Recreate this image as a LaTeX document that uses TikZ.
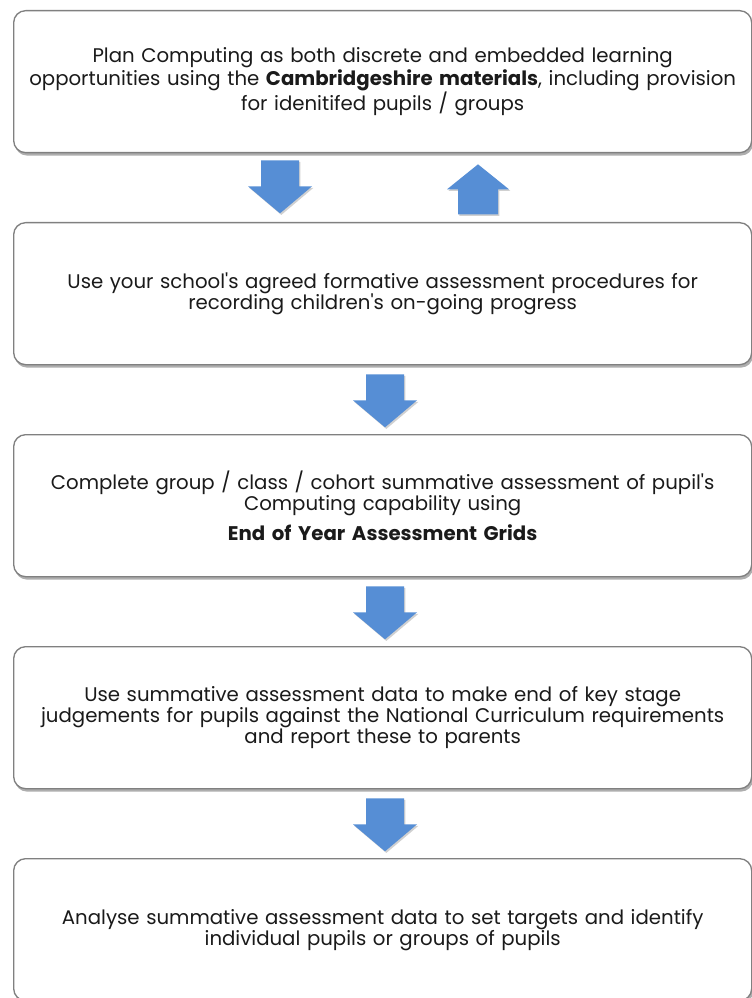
\documentclass[tikz,border=0pt]{standalone}
\usepackage{fontspec}
\setmainfont{Poppins}[Ligatures=TeXOff]
\usetikzlibrary{calc,shadows}
\definecolor{arrowblue}{RGB}{86,142,213}
\definecolor{boxline}{RGB}{128,128,128}
\definecolor{txt}{RGB}{26,26,26}
\tikzset{
  stagebox/.style={draw=boxline, line width=1pt, fill=white, rounded corners=9pt,
    anchor=north west, minimum width=553.5pt, minimum height=106.5pt,
    text width=548pt, align=center, text=txt, inner sep=0pt,
    font=\fontsize{14.8}{15.8}\selectfont,
    drop shadow={shadow xshift=1pt, shadow yshift=-2.2pt, opacity=0.45, fill=black!70}},
  arrowfill/.style={fill=arrowblue,
    drop shadow={shadow xshift=1pt, shadow yshift=-1.2pt, opacity=0.3, fill=black!60}},
  downarrow/.pic={\path[arrowfill] (-19,0) -- (19,0) -- (19,26) -- (32,26) -- (0,53) -- (-32,26) -- (-19,26) -- cycle;},
  uparrow/.pic={\path[arrowfill] (0,0) -- (31,25) -- (20,25) -- (20,50) -- (-20,50) -- (-20,25) -- (-31,25) -- cycle;}
}
\begin{document}
\begin{tikzpicture}[x=0.75pt,y=-0.75pt]
\useasboundingbox (0,0) rectangle (752,998);
\fill[white] (0,0) rectangle (752,998);
\node[stagebox, font=\fontsize{14.8}{17.5}\selectfont] (b1) at (13,10) {Plan Computing as both discrete and embedded learning\\opportunities using the \textbf{Cambridgeshire materials}, including provision\\for idenitifed pupils / groups};
\node[stagebox] (b2) at (13,222) {Use your school's agreed formative assessment procedures for\\recording children's on-going progress};
\node[stagebox] (b3) at (13,434) {Complete group / class / cohort summative assessment of pupil's\\Computing capability using\\[6pt]\textbf{End of Year Assessment Grids}};
\node[stagebox] (b4) at (13,646) {Use summative assessment data to make end of key stage\\judgements for pupils against the National Curriculum requirements\\and report these to parents};
\node[stagebox] (b5) at (13,858) {Analyse summative assessment data to set targets and identify\\individual pupils or groups of pupils};
\pic at ($(b1.south west)+(267,7)$) {downarrow};
\pic at ($(b1.south west)+(465,11)$) {uparrow};
\pic at ($(b2.south west)+(372,9)$) {downarrow};
\pic at ($(b3.south west)+(372,9)$) {downarrow};
\pic at ($(b4.south west)+(372,9)$) {downarrow};
\end{tikzpicture}
\end{document}
